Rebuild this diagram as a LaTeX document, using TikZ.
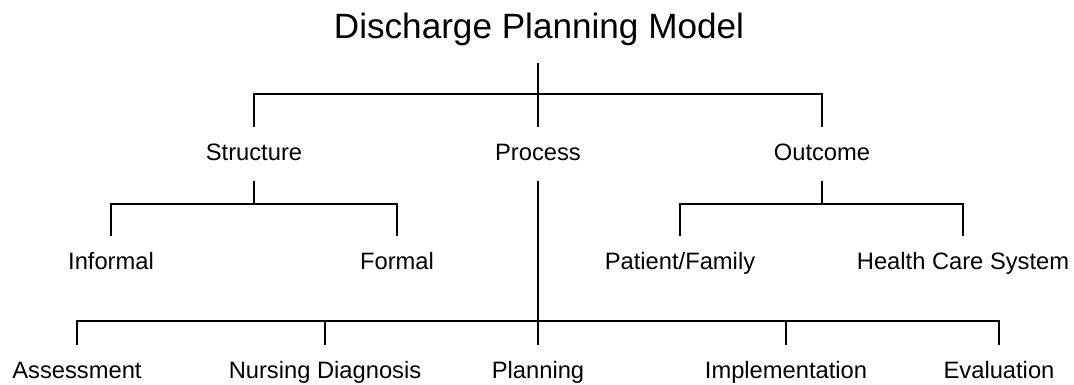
\documentclass[tikz,border=0pt]{standalone}
\usepackage{fontspec}
\setmainfont{Liberation Sans}
\usepackage{tikz}
\usetikzlibrary{calc}
\tikzset{
	lbl/.style={inner sep=0pt, text height=0.72em, text depth=0pt,
		minimum height=30.6pt, font=\fontsize{13.5}{16}\selectfont},
	ttl/.style={inner sep=0pt, text height=0.72em, text depth=0pt,
		minimum height=35.2pt, font=\fontsize{20}{24}\selectfont},
	tree/.style={line width=1.5pt, draw=black}
}

\begin{document}
\begin{tikzpicture}[x=0.02cm, y=-0.02cm]
	\useasboundingbox (0,0) rectangle (1074,385);

	% Titolo
	\node[ttl](title) at (539,32) {Discharge Planning Model};

	% Livello 1
	\node[lbl](struc) at (254,154) {Structure};
	\node[lbl](proc) at (538,154) {Process};
	\node[lbl](outc) at (822,154) {Outcome};

	% Livello 2
	\node[lbl](infor) at (111,263) {Informal};
	\node[lbl](form) at (397,263) {Formal};
	\node[lbl](pafa) at (680,263) {Patient/Family};
	\node[lbl](hcs) at (963,263) {Health Care System};

	% Livello 3
	\node[lbl](asse) at (77,372) {Assessment};
	\node[lbl](nudi) at (325,372) {Nursing Diagnosis};
	\node[lbl](plan) at (538,372) {Planning};
	\node[lbl](impl) at (786,372) {Implementation};
	\node[lbl](eval) at (999,372) {Evaluation};

	\coordinate[](j1) at (538,94);
	\coordinate[](j2) at (254,204);
	\coordinate[](j3) at (822,204);
	\coordinate[](j4) at (538,321);

	% Rami
	\draw[tree] (proc.north) -- (proc.north |- title.south);
	\draw[tree] (struc.north) |- (j1) -| (outc.north);

	\draw[tree] (struc.south) -- (j2);
	\draw[tree] (infor.north) |- (j2) -| (form.north);

	\draw[tree] (outc.south) -- (j3);
	\draw[tree] (pafa.north) |- (j3) -| (hcs.north);

	\draw[tree] (proc.south) -- (plan.north);
	\draw[tree] (asse.north) |- (j4) -| (eval.north);
	\foreach \n in {nudi, impl}
	{
	\draw[tree] (\n.north) -- (\n.north |- j4);
	}

\end{tikzpicture}
\end{document}
